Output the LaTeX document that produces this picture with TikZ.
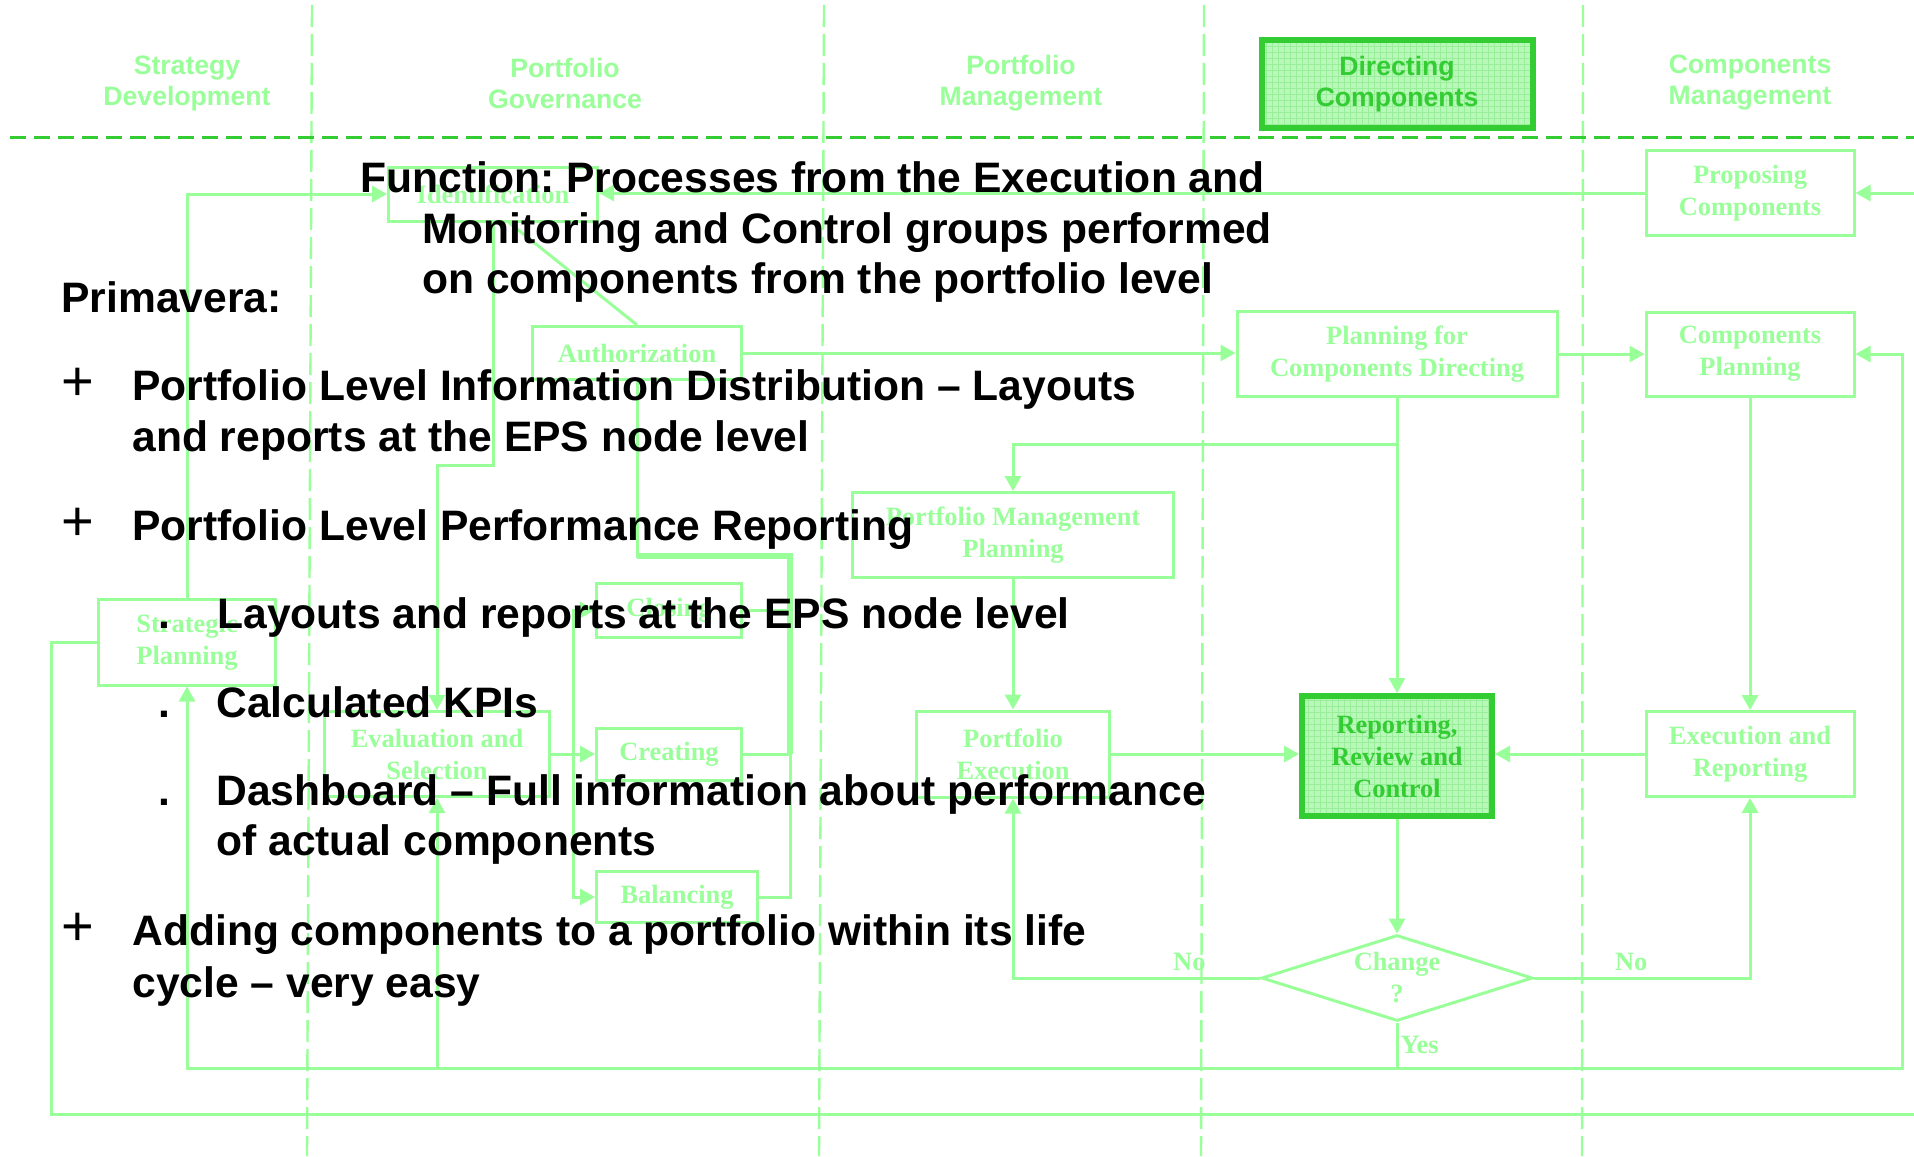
\documentclass[tikz,border=0pt]{standalone}
\usepackage{fontspec}
\setmainfont{Liberation Serif}
\setsansfont{Liberation Sans}
\usetikzlibrary{arrows.meta,patterns,shapes.geometric}
\frenchspacing

\definecolor{lgreen}{HTML}{99FF99}
\definecolor{dgreen}{HTML}{33CC33}
\definecolor{gfill}{HTML}{B8F8B8}
\definecolor{ggrid}{HTML}{99EE99}

\newcommand{\headfont}{\sffamily\bfseries\fontsize{13.3}{15.5}\selectfont}
\newcommand{\procfont}{\rmfamily\bfseries\fontsize{13.2}{16}\selectfont}
\newcommand{\sayfont}{\sffamily\bfseries\fontsize{21.3}{25.5}\selectfont}
\newcommand{\plusfont}{\sffamily\fontsize{28}{28}\selectfont}

\tikzset{
    lane/.style={lgreen, line width=1.2pt, dash pattern=on 11pt off 3.5pt},
    tier/.style={dgreen, line width=1.5pt, dash pattern=on 8pt off 4pt},
    head/.style={text=lgreen, font=\headfont, align=center},
    proc/.style={draw=lgreen, line width=1.5pt, text=lgreen, font=\procfont,
        align=center, inner sep=0pt},
    hot/.style={draw=dgreen, line width=3pt, text=dgreen,
        preaction={fill=gfill}, pattern=grid, pattern color=ggrid},
    wh/.style 2 args={minimum width=#1*0.5pt, minimum height=#2*0.5pt},
    flow/.style={lgreen, line width=1.5pt},
    arr/.style={flow, -{Triangle[length=7.5pt, width=8pt]}},
    lbl/.style={text=lgreen, font=\procfont, inner sep=1pt},
    say/.style={font=\sayfont, anchor=base west, inner sep=0pt},
}

\begin{document}
\begin{tikzpicture}[x=0.5pt, y=-0.5pt]
    \useasboundingbox (0,0) rectangle (1914,1156);
    \fill[white] (0,0) rectangle (1914,1156);

    % swim lanes
    \foreach \xa/\xb in {312/307, 824/819, 1204/1201, 1583/1582}
        \draw[lane] (\xa,5) -- (\xb,1156);
    \draw[tier] (10,137) -- (1914,137);

    \node[head] (hstrat) at (187,83) {Strategy\\Development};
    \node[head] (hgov) at (565,83) {Portfolio\\Governance};
    \node[head] (hpm) at (1021,83) {Portfolio\\Management};
    \node[head, hot, wh={271}{88}] (hdir) at (1397,84) {Directing\\Components};
    \node[head] (hcm) at (1750,83) {Components\\Management};

    % process boxes
    \node[proc, wh={209}{54}] (ident) at (493,194) {Identification};
    \node[proc, wh={209}{53}] (auth) at (637,353) {Authorization};
    \node[proc, wh={177}{86}] (stratplan) at (187,642) {Strategic\\Planning};
    \node[proc, wh={225}{85}] (evalsel) at (437,754) {Evaluation and\\Selection};
    \node[proc, wh={145}{54}] (closing) at (669,610) {Closing};
    \node[proc, wh={145}{52}] (creating) at (669,754) {Creating};
    \node[proc, wh={161}{51}] (balancing) at (677,897) {Balancing};
    \node[proc, wh={321}{85}] (pmplan) at (1013,535) {Portfolio Management\\Planning};
    \node[proc, wh={193}{86}] (pexec) at (1013,754) {Portfolio\\Execution};
    \node[proc, wh={320}{85}] (pfcd) at (1397,354) {Planning for\\Components Directing};
    \node[proc, hot, wh={190}{120}] (rrc) at (1397,756) {Reporting,\\Review and\\Control};
    \node[proc, shape=diamond, aspect=3.15, wh={271}{86}] (change) at (1397,978) {Change\\?};
    \node[proc, wh={208}{85}] (propcomp) at (1750,193) {Proposing\\Components};
    \node[proc, wh={208}{84}] (compplan) at (1750,354) {Components\\Planning};
    \node[proc, wh={208}{85}] (execrep) at (1750,754) {Execution and\\Reporting};

    % connectors
    \coordinate (jog) at (437,465);
    \coordinate (bus) at (790,556);
    \coordinate (fork) at (573,754);
    \coordinate (split) at (1397,444);
    \coordinate (yes) at (1397,1068);
    \coordinate (rloop) at (1902,354);
    \coordinate (loopL) at (51,1114);
    \coordinate (loopR) at (1940,1114);

    \draw[arr] (stratplan.north) |- (ident.west);
    \draw[arr] (propcomp.west) -- (propcomp.west -| ident.east);
    \draw[flow] ([xshift=8pt]ident.south) -- (auth.north);
    \draw[arr] (ident.south) |- (jog) -- (evalsel.north);
    \draw[arr] (auth.east) -- (auth.east -| pfcd.west);
    \draw[flow] (balancing.east) -| (bus) -| (auth.south);
    \draw[flow] (closing.east) -- (closing.east -| bus);
    \draw[flow] (creating.east) -- (creating.east -| bus);
    \draw[flow, line width=2.8pt] (creating.east -| bus) -- (bus) -- (bus -| auth.south);
    \draw[arr] (evalsel.east) -- (creating.west);
    \draw[arr] (fork) |- (closing.west);
    \draw[arr] (fork) |- (balancing.west);
    \draw[arr] (pfcd.east) -- (pfcd.east -| compplan.west);
    \draw[arr] (pfcd.south) -- (rrc.north);
    \draw[arr] (split) -| (pmplan.north);
    \draw[arr] (pmplan.south) -- (pexec.north);
    \draw[arr] (pexec.east) -- (pexec.east -| rrc.west);
    \draw[arr] (compplan.south) -- (execrep.north);
    \draw[arr] (execrep.west) -- (execrep.west -| rrc.east);
    \draw[arr] (rrc.south) -- (change.north);
    \draw[arr] (change.west) -| node[lbl, above=2pt, pos=0.143] (nol) {No} (pexec.south);
    \draw[arr] (change.east) -| node[lbl, above=2pt, pos=0.225] (nor) {No} (execrep.south);
    \draw[flow] (change.south) -- node[lbl, right, pos=0.5] (yeslbl) {Yes} (yes);
    \draw[arr] (yes) -| (stratplan.south);
    \draw[arr] (evalsel.south |- yes) -- (evalsel.south);
    \draw[arr] (yes) -| (rloop) -- (compplan.east);
    \draw[arr] (stratplan.west) -| (loopL) -- (loopR) |- (propcomp.east);

    % Primavera notes
    \node[say] (fn1) at (360,192) {Function: Processes from the Execution and};
    \node[say] (fn2) at (422,243) {Monitoring and Control groups performed};
    \node[say] (fn3) at (422,293) {on components from the portfolio level};
    \node[say] (prim) at (61,312) {Primavera:};
    \foreach \y/\n in {400/p1, 540/p2, 945/p3}
        \node[font=\plusfont, anchor=base, inner sep=0pt] (\n) at (78,\y) {+};
    \foreach \y/\n in {628/d1, 717/d2, 805/d3}
        \node[say] (\n) at (158,\y) {.};
    \node[say] (i1a) at (132,400) {Portfolio Level Information Distribution – Layouts};
    \node[say] (i1b) at (132,451) {and reports at the EPS node level};
    \node[say] (i2) at (132,540) {Portfolio Level Performance Reporting};
    \node[say] (s1) at (217,628) {Layouts and reports at the EPS node level};
    \node[say] (s2) at (216,717) {Calculated KPIs};
    \node[say] (s3a) at (216,805) {Dashboard – Full information about performance};
    \node[say] (s3b) at (216,855) {of actual components};
    \node[say] (i3a) at (132,945) {Adding components to a portfolio within its life};
    \node[say] (i3b) at (132,997) {cycle – very easy};
\end{tikzpicture}
\end{document}
